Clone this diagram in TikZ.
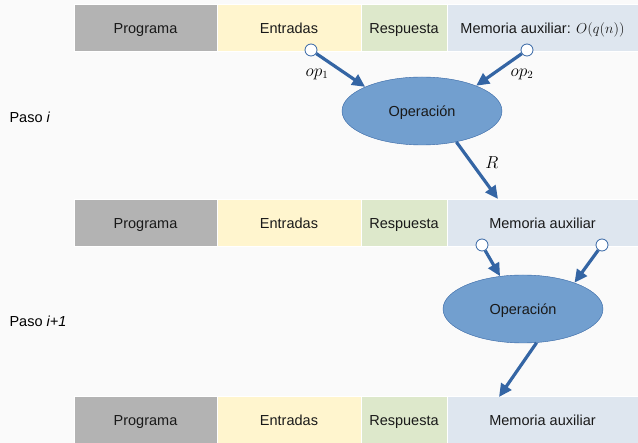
\documentclass[tikz,border=0pt]{standalone}
\usepackage{fontspec}
\setmainfont{Liberation Sans}
\usetikzlibrary{positioning,shapes.geometric,arrows.meta}
\definecolor{fondo}{HTML}{FAFAFA}
\definecolor{gris}{HTML}{B3B3B3}
\definecolor{amarillo}{HTML}{FFF5CE}
\definecolor{verde}{HTML}{DDE8CB}
\definecolor{celeste}{HTML}{DEE6EF}
\definecolor{azul}{HTML}{729FCF}
\definecolor{azulosc}{HTML}{3465A4}

\begin{document}
\begin{tikzpicture}[x=1pt,y=-1pt,
                font=\fontsize{14.5}{17}\selectfont,
                celda/.style={draw=white,line width=1pt,outer sep=0pt,minimum height=47pt,inner sep=0pt,
                              text height=12pt,text depth=1.8pt,text=black!90},
                oper/.style={ellipse,draw=azulosc,fill=azul,minimum width=160pt,minimum height=68pt,inner sep=0pt,
                             text height=12pt,text depth=1.8pt,text=black!90},
                puerto/.style={circle,draw=azulosc,fill=white,line width=0.8pt,minimum size=12pt,inner sep=0pt},
                flecha/.style={-{Triangle[length=13pt,width=12pt]},azulosc,line width=3.2pt},
                etiq/.style={font=\fontsize{16}{18}\selectfont}]

\fill[fondo] (0,0) rectangle (638,443);
\useasboundingbox (0,0) rectangle (638,443);

% paso i
\node[celda,fill=gris,minimum width=143pt]                      (prog1) at (145.5,28) {Programa};
\node[celda,fill=amarillo,minimum width=144pt,right=0pt of prog1] (ent1) {Entradas};
\node[celda,fill=verde,minimum width=86pt,right=0pt of ent1]      (resp1) {Respuesta};
\node[celda,fill=celeste,minimum width=191pt,right=0pt of resp1]  (mem1) {Memoria auxiliar: $O(q(n))$};

% paso i+1
\node[celda,fill=gris,minimum width=143pt]                      (prog2) at (145.5,223) {Programa};
\node[celda,fill=amarillo,minimum width=144pt,right=0pt of prog2] (ent2) {Entradas};
\node[celda,fill=verde,minimum width=86pt,right=0pt of ent2]      (resp2) {Respuesta};
\node[celda,fill=celeste,minimum width=191pt,right=0pt of resp2]  (mem2) {Memoria auxiliar};

% final
\node[celda,fill=gris,minimum width=143pt]                      (prog3) at (145.5,420) {Programa};
\node[celda,fill=amarillo,minimum width=144pt,right=0pt of prog3] (ent3) {Entradas};
\node[celda,fill=verde,minimum width=86pt,right=0pt of ent3]      (resp3) {Respuesta};
\node[celda,fill=celeste,minimum width=191pt,right=0pt of resp3]  (mem3) {Memoria auxiliar};

\node[anchor=west] (paso1) at (6,117) {Paso \textit{i}};
\node[anchor=west] (paso2) at (6,321) {Paso \textit{i+1}};

\node[oper] (opA) at (422,111) {Operación};
\node[oper] (opB) at (523,309) {Operación};

\node[puerto] (pA1) at (311,50) {};
\node[puerto] (pA2) at (527,50) {};
\node[puerto] (pB1) at (482,245) {};
\node[puerto] (pB2) at (602,245) {};

\coordinate (llegaA) at (498,199);
\coordinate (llegaB) at (499,397);

  \path[flecha] (pA1) edge (opA.157)
                (pA2) edge (opA.25)
                (opA.-42) edge (llegaA)
                (pB1) edge (opB.125)
                (pB2) edge (opB.27)
                (opB.-68) edge (llegaB)
                ;

\node[etiq] (op1) at (317,74) {$op_1$};
\node[etiq] (op2) at (522,74) {$op_2$};
\node[etiq] (res) at (492,163) {$R$};
\end{tikzpicture}
\end{document}
